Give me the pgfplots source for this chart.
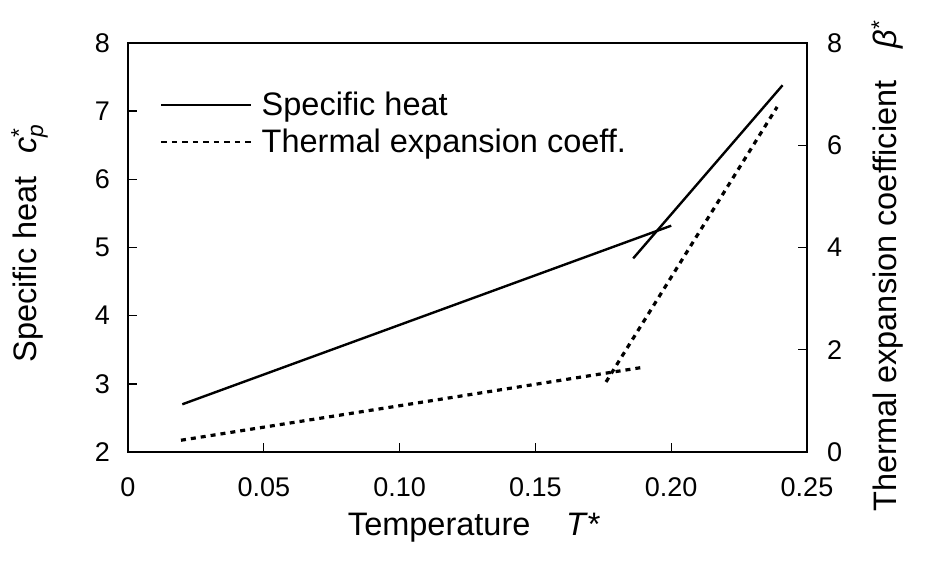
\documentclass[border=0pt]{standalone}
\usepackage{fontspec}
\setmainfont{Liberation Sans}
\usepackage{amsmath}
\usepackage{pgfplots}
\pgfplotsset{compat=1.18}

\pgfplotsset{
  base/.style={
    scale only axis, width=679pt, height=409pt,
    at={(0pt,0pt)}, anchor=south west,
    xmin=0, xmax=0.25,
    /pgf/number format/assume math mode=true,
    major tick length=9pt,
    tick style={line width=1.4pt, black},
    axis line style={line width=1.4pt},
    ticklabel style={font=\fontsize{27}{31}\selectfont, inner sep=0pt},
    label style={font=\fontsize{32.5}{38}\selectfont, inner sep=0pt},
  },
  cpline/.style={black, line width=2.4pt},
  betaline/.style={black, line width=3.2pt, dash pattern=on 5pt off 5pt},
}

\begin{document}
\begin{tikzpicture}
\begin{axis}[base,
    ymin=2, ymax=8, ytick={2,3,4,5,6,7,8},
    xtick={0,0.05,0.10,0.15,0.20,0.25},
    xticklabels={0,0.05,0.10,0.15,0.20,0.25},
    xtick pos=bottom, ytick pos=left,
    xticklabel style={anchor=north, yshift=-25pt},
    yticklabel style={anchor=east, xshift=-18pt},
    xlabel={Temperature\hspace{1.1em}\textit{T}*},
    xlabel style={at={(axis description cs:0.51,0)}, anchor=north, yshift=-61pt},
    ylabel={Specific heat\hspace{0.7em}$\textit{c}_{\textit{p}}^{\text{*}}$},
    ylabel style={at={(axis description cs:-0.145,0.51)}, anchor=center},
    legend style={draw=none, fill=none, inner sep=0pt,
      at={(axis description cs:0.047,0.885)}, anchor=north west,
      font=\fontsize{32.5}{38}\selectfont,
      nodes={inner sep=2pt}, row sep=8pt},
    legend cell align=left,
    legend image code/.code={\draw[#1] (0pt,0pt) -- (90pt,0pt);},
  ]
  \addplot[cpline] coordinates {(0.020,2.70) (0.200,5.32)};
  \addlegendentry{\hspace{7pt}Specific heat}
  \addplot[cpline, forget plot] coordinates {(0.186,4.84) (0.241,7.38)};
  \addlegendimage{betaline, dash pattern=on 5.5pt off 5pt, line width=2.6pt}
  \addlegendentry{\hspace{7pt}Thermal expansion coeff.}
\end{axis}
\begin{axis}[base,
    hide x axis, axis y line*=right,
    ymin=0, ymax=8, ytick={0,2,4,6,8},
    yticklabel style={anchor=west, xshift=20pt},
    ylabel={Thermal expansion coefficient\hspace{1em}\textit{β}\textsuperscript{*}},
    ylabel style={at={(axis description cs:1.118,0.455)}, anchor=center},
  ]
  \addplot[betaline] coordinates {(0.0195,0.23) (0.190,1.66)};
  \addplot[betaline] coordinates {(0.176,1.37) (0.239,6.75)};
\end{axis}
\path (-128pt,-109pt) rectangle (798pt,452pt);
\end{tikzpicture}
\end{document}
